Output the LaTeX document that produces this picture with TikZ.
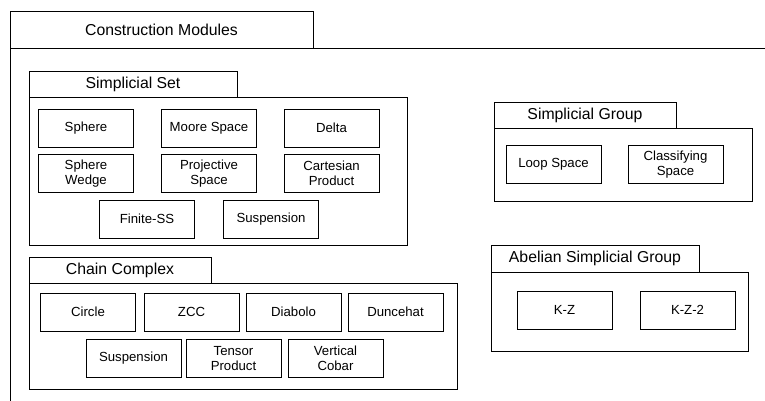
\documentclass[tikz,border=0pt]{standalone}
\usepackage{fontspec}
\setmainfont{Liberation Sans}
\begin{document}
\begin{tikzpicture}[x=1pt,y=-1pt,line width=0.8pt,
  frame/.style={draw,rectangle,anchor=north west,inner sep=0pt,outer sep=0pt},
  tab/.style={frame,font=\fontsize{15.8}{18}\selectfont},
  modbox/.style={draw,rectangle,minimum width=95pt,minimum height=38pt,inner sep=0pt,align=center,font=\fontsize{13.2}{15.5}\selectfont}]
\useasboundingbox (0,0) rectangle (765,400);
\clip (0,0) rectangle (765,400);
% outer package
\node[frame,minimum width=800pt,minimum height=400pt] (outerbody) at (10,48) {};
\node[tab,minimum width=303pt,minimum height=37pt] (outertab) at (10,11) {Construction Modules};
% Simplicial Set
\node[frame,minimum width=378pt,minimum height=147.5pt] (ssbody) at (29,97.5) {};
\node[tab,minimum width=208pt,minimum height=26.5pt] (sstab) at (29,71) {Simplicial Set};
\node[modbox] (sphere) at (86,128) {Sphere};
\node[modbox] (moore) at (209,128) {Moore Space};
\node[modbox] (delta) at (331.5,128) {Delta};
\node[modbox] (wedge) at (86,173.5) {Sphere\\Wedge};
\node[modbox] (proj) at (209,173.5) {Projective\\Space};
\node[modbox] (cart) at (331.5,173.5) {Cartesian\\Product};
\node[modbox] (finss) at (147,219) {Finite-SS};
\node[modbox] (sssusp) at (271,219) {Suspension};
% Chain Complex
\node[frame,minimum width=428pt,minimum height=106pt] (ccbody) at (29,283) {};
\node[tab,minimum width=182pt,minimum height=26pt] (cctab) at (29,257) {Chain Complex};
\node[modbox] (circle) at (88,312) {Circle};
\node[modbox] (zcc) at (191.5,312) {ZCC};
\node[modbox] (diabolo) at (293.5,312) {Diabolo};
\node[modbox] (dunce) at (395.5,312) {Duncehat};
\node[modbox] (ccsusp) at (133.5,358.5) {Suspension};
\node[modbox] (tensor) at (233.5,358.5) {Tensor\\Product};
\node[modbox] (cobar) at (335.5,358.5) {Vertical\\Cobar};
% Simplicial Group
\node[frame,minimum width=258pt,minimum height=73pt] (sgbody) at (494,128) {};
\node[tab,minimum width=182pt,minimum height=26pt] (sgtab) at (494,102) {Simplicial Group};
\node[modbox] (loop) at (553.5,164.5) {Loop Space};
\node[modbox] (classif) at (675.5,164.5) {Classifying\\Space};
% Abelian Simplicial Group
\node[frame,minimum width=257pt,minimum height=79pt] (asgbody) at (491,272) {};
\node[tab,minimum width=208pt,minimum height=27pt] (asgtab) at (491,245) {Abelian Simplicial Group};
\node[modbox] (kz) at (564.5,310) {K-Z};
\node[modbox] (kz2) at (687.5,310) {K-Z-2};
\end{tikzpicture}
\end{document}
